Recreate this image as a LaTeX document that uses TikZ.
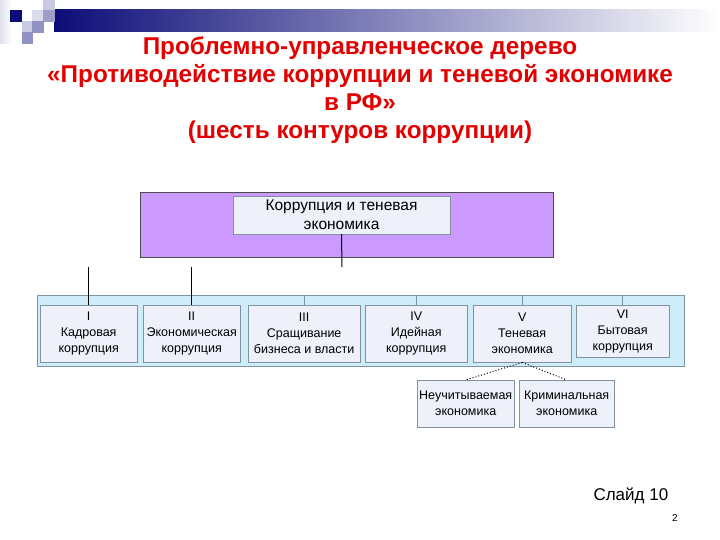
\documentclass[tikz,border=0pt]{standalone}
\usepackage{fontspec}
\setmainfont{Liberation Sans}
\usetikzlibrary{positioning}
\definecolor{navy}{RGB}{12,12,120}
\definecolor{lilac}{RGB}{204,153,255}
\definecolor{skyband}{RGB}{206,236,250}
\definecolor{boxfill}{RGB}{238,240,250}
\definecolor{boxline}{RGB}{128,146,160}
\definecolor{titlered}{RGB}{226,0,0}
\tikzset{
  font=\fontsize{12.5}{16}\selectfont,
  ttl/.style     ={align=center, text=titlered, font=\bfseries\fontsize{24.3}{28}\selectfont},
  topband/.style ={draw=black!70, fill=lilac, minimum width=413pt, minimum height=65pt, inner sep=0pt},
  lowband/.style ={draw=boxline, fill=skyband, minimum width=647pt, minimum height=71pt, inner sep=0pt},
  rootbox/.style ={draw=boxline, fill=boxfill, minimum width=217pt, minimum height=38pt, inner sep=0pt, align=center, font=\fontsize{15.5}{19}\selectfont},
  contour/.style ={draw=boxline, fill=boxfill, anchor=north west, minimum height=57pt, inner sep=0pt, align=center},
  subbox/.style  ={draw=boxline, fill=boxfill, anchor=north west, minimum height=47pt, inner sep=0pt, align=center},
  link/.style    ={draw=black, line width=1pt},
  tick/.style    ={draw=boxline, line width=0.8pt},
  dotlink/.style ={draw=black, dotted, line width=1pt},
  sq/.style      ={draw=white, line width=0.5pt},
}

\begin{document}
\begin{tikzpicture}[x=1pt,y=-1pt]
  \useasboundingbox (0,0) rectangle (720,540);
  % header strip
  \shade[left color=navy!12, right color=white] (0,0) rectangle (12,44);
  \shade[left color=navy, right color=white] (54,10) rectangle (720,32);
  \fill[sq, navy] (10,10) rectangle (21,21);
  \fill[sq, navy!22] (43,0) rectangle (54,10);
  \fill[sq, navy!15] (32,10) rectangle (43,21);
  \fill[sq, navy!40] (43,10) rectangle (54,21);
  \fill[sq, navy!22] (22,21) rectangle (32,32);
  \fill[sq, navy!45] (32,21) rectangle (43,32);
  \fill[sq, navy!45] (22,32) rectangle (32,43);
  % title
  \node[ttl] (title) at (360,90) {Проблемно-управленческое дерево\\«Противодействие коррупции и теневой экономике\\в РФ»\\(шесть контуров коррупции)};
  % level 0
  \node[topband] (lvl0) at (346.5,224.5) {};
  \node[rootbox] (root) at (341.5,215) {Коррупция и теневая\\экономика};
  \coordinate (rootend) at (342,267);
  \draw[link] (root.south) -- (rootend);
  % level 1: six contours
  \node[lowband] (lvl1) at (360.5,330.5) {};
  \node[contour, minimum width=97pt]  (c1) at (40,305)  {I\\Кадровая\\коррупция};
  \node[contour, minimum width=97pt]  (c2) at (143,305) {II\\Экономическая\\коррупция};
  \node[contour, minimum width=112pt] (c3) at (248,305) {III\\Сращивание\\бизнеса и власти};
  \node[contour, minimum width=102pt] (c4) at (365,305) {IV\\Идейная\\коррупция};
  \node[contour, minimum width=98pt]  (c5) at (473,305) {V\\Теневая\\экономика};
  \node[contour, minimum width=93pt, minimum height=52pt] (c6) at (576,305) {VI\\Бытовая\\коррупция};
  \foreach \b in {c1,c2} \draw[link] (\b.north) -- (\b.north |- rootend);
  \foreach \b in {c3,c4,c5,c6} \draw[tick] (\b.north) -- (\b.north |- lvl1.north);
  % level 2 under V
  \node[subbox, minimum width=97pt] (s1) at (417,380) {Неучитываемая\\экономика};
  \node[subbox, minimum width=95pt] (s2) at (519,380) {Криминальная\\экономика};
  \draw[dotlink] (c5.south) -- (s1.north);
  \draw[dotlink] (c5.south) -- (s2.north);
  % footer
  \node[anchor=base west, font=\fontsize{17}{20}\selectfont] (slide) at (590,500) {Слайд 10};
  \node[font=\fontsize{10}{12}\selectfont] (page) at (675,518) {2};
\end{tikzpicture}
\end{document}
